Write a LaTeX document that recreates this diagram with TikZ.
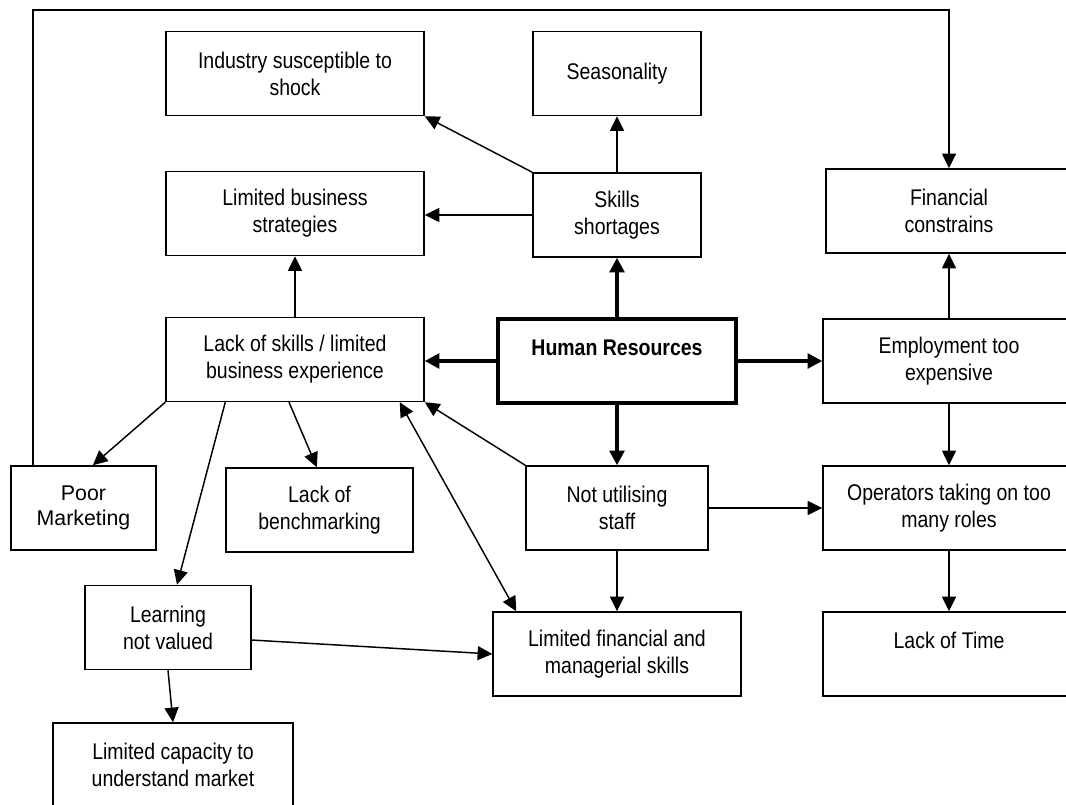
\documentclass[tikz,border=0pt]{standalone}
\usepackage{fontspec}
\setmainfont{Liberation Sans}[FakeStretch=0.86]
\newfontfamily\widefont{Liberation Sans}
\usetikzlibrary{arrows.meta, positioning}
\tikzset{
    cause_box/.style={rectangle, draw=black, line width=1.1pt, minimum height=63pt, text centered, align=center, inner sep=0pt, font=\fontsize{17}{20.25}\selectfont},
    hr_box/.style={cause_box, line width=3pt, font=\fontsize{17}{20.25}\selectfont\bfseries},
    wide_box/.style={cause_box, font=\fontsize{16}{18.5}\selectfont\widefont},
    arrow/.style={line width=1.1pt, -{Triangle[length=11pt, width=10.5pt]}},
    thick_arrow/.style={line width=3pt, -{Triangle[length=11pt, width=11pt]}},
    double_arrow/.style={line width=1.1pt, {Triangle[length=11pt, width=10.5pt]}-{Triangle[length=11pt, width=10.5pt]}},
}

\begin{document}
\begin{tikzpicture}[x=0.75pt, y=-0.75pt]
      \useasboundingbox (0,0) rectangle (1066,805);
      \clip (0,0) rectangle (1066,805);
      %%%%%%%%%%%%%%%%%%%
      % Human Resources %
      %%%%%%%%%%%%%%%%%%%
      \node (hr) [hr_box, minimum width=178.5pt] at (617,361)
          {Human Resources\\~};
      \node (skills) [cause_box, minimum width=126pt] at (617,215)
          {Skills\\shortages};
      \node (season) [cause_box, minimum width=126pt] at (617,73.5)
          {Seasonality};
      \node (industry) [cause_box, minimum width=193.5pt] at (295,73.5)
          {Industry susceptible to\\shock};
      \node (strategies) [cause_box, minimum width=193.5pt] at (295,213.5)
          {Limited business\\strategies};
      \node (lackskills) [cause_box, minimum width=193.5pt] at (295,359.5)
          {Lack of skills / limited\\business experience};
      \node (financial) [cause_box, minimum width=184.5pt] at (949,211)
          {Financial\\constrains};
      \node (employ) [cause_box, minimum width=189pt] at (949,361)
          {Employment too\\expensive};
      \node (operators) [cause_box, minimum width=189pt] at (949,508)
          {Operators taking on too\\many roles};
      \node (lacktime) [cause_box, minimum width=189pt] at (949,654)
          {Lack of Time\\~};
      \node (notutil) [cause_box, minimum width=136.5pt] at (617,508)
          {Not utilising\\staff};
      \node (limfin) [cause_box, minimum width=186pt] at (617,654)
          {Limited financial and\\managerial skills};
      \node (marketing) [wide_box, minimum width=108.75pt] at (83.5,508)
          {Poor\\Marketing};
      \node (bench) [cause_box, minimum width=140.25pt] at (319.5,510)
          {Lack of\\benchmarking};
      \node (learning) [cause_box, minimum width=124.5pt] at (168,627.5)
          {Learning\\not valued};
      \node (capacity) [cause_box, minimum width=180pt] at (173,765)
          {Limited capacity to\\understand market};
      \coordinate (loop_corner) at (33,10);

      \draw [thick_arrow] (hr.north) -- (skills.south);
      \draw [thick_arrow] (hr.west) -- (hr.west -| lackskills.east);
      \draw [thick_arrow] (hr.east) -- (employ.west);
      \draw [thick_arrow] (hr.south) -- (notutil.north);

      \draw [arrow] (skills.north) -- (season.south);
      \draw [arrow] (skills.north west) -- (industry.south east);
      \draw [arrow] (skills.west) -- (skills.west -| strategies.east);
      \draw [arrow] (lackskills.north) -- (strategies.south);
      \draw [arrow] (employ.north) -- (financial.south);
      \draw [arrow] (employ.south) -- (operators.north);
      \draw [arrow] (operators.south) -- (lacktime.north);
      \draw [arrow] (notutil.east) -- (operators.west);
      \draw [arrow] (notutil.south) -- (limfin.north);
      \draw [arrow] (notutil.north west) -- (lackskills.south east);
      \draw [double_arrow] ([xshift=-18.75pt]lackskills.south east) -- ([xshift=18pt]limfin.north west);

      \draw [arrow] (lackskills.south west) -- ([xshift=7pt]marketing.north);
      \draw [arrow] ([xshift=45pt]lackskills.south west) -- ([xshift=6.75pt]learning.north);
      \draw [arrow] ([xshift=-4.5pt]lackskills.south) -- ([xshift=-2pt]bench.north);
      \draw [arrow] ([yshift=-9.4pt]learning.east) -- (limfin.west);
      \draw [arrow] (learning.south) -- (capacity.north);

      \draw [arrow] (marketing.north -| loop_corner) -- (loop_corner) -| (financial.north);
\end{tikzpicture}
\end{document}
